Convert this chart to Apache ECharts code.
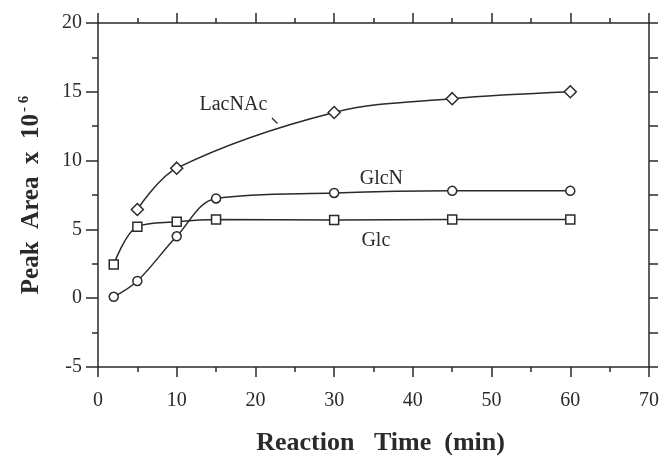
<!DOCTYPE html>
<html>
<head>
<meta charset="utf-8">
<script src="https://cdn.jsdelivr.net/npm/echarts@6/dist/echarts.min.js"></script>
<style>html,body{margin:0;padding:0;background:#fff}#c{width:666px;height:457px}</style>
</head>
<body>
<div id="c"></div>
<script>
// Data
var timeLacNAc = [5, 10, 30, 45, 60];
var valLacNAc  = [6.45, 9.45, 13.5, 14.5, 15.0];
var timeGlcN   = [2, 5, 10, 15, 30, 45, 60];
var valGlcN    = [0.1, 1.25, 4.5, 7.25, 7.65, 7.8, 7.8];
var timeGlc    = [2, 5, 10, 15, 30, 45, 60];
var valGlc     = [2.45, 5.2, 5.55, 5.72, 5.68, 5.72, 5.72];
var xTicks = [0, 10, 20, 30, 40, 50, 60, 70];
var yTicks = [-5, 0, 5, 10, 15, 20];
// annotations in data coordinates
var labelNames = ['LacNAc', 'GlcN', 'Glc'];
var labelX = [17.2, 36.0, 35.3];
var labelY = [14.05, 8.7, 4.2];
var leaderX = [22.1, 22.8];
var leaderY = [13.1, 12.7];

function pairs(xs, ys) { return xs.map(function (x, i) { return [x, ys[i]]; }); }

var ink = '#2a2a2a';
var serif = '"Liberation Serif", "DejaVu Serif", serif';

var chart = echarts.init(document.getElementById('c'), null, {renderer: 'canvas'});

function baseX(pos, labels) {
  return {
    type: 'value', position: pos, min: xTicks[0], max: xTicks[xTicks.length - 1], interval: 10,
    axisLine: {show: true, onZero: false, lineStyle: {color: ink, width: 1.5}},
    axisTick: {show: true, inside: false, length: 10, lineStyle: {color: ink, width: 1.5}},
    minorTick: {show: true, splitNumber: 2, length: 5, lineStyle: {color: ink, width: 1.5}},
    axisLabel: {show: labels, margin: 24, color: ink, fontFamily: serif, fontSize: 20},
    splitLine: {show: false}
  };
}
function baseY(pos, labels) {
  return {
    type: 'value', position: pos, min: yTicks[0], max: yTicks[yTicks.length - 1], interval: 5,
    axisLine: {show: true, onZero: false, lineStyle: {color: ink, width: 1.5}},
    axisTick: {show: true, inside: false, length: labels ? 12 : 9, lineStyle: {color: ink, width: 1.5}},
    minorTick: {show: true, splitNumber: 2, length: labels ? 6 : 9, lineStyle: {color: ink, width: 1.5}},
    axisLabel: {show: labels, margin: 16, color: ink, fontFamily: serif, fontSize: 20},
    splitLine: {show: false}
  };
}

var yL = baseY('left', true);
yL.name = '{b|Peak  Area  x  10}{s|- 6}';
yL.nameLocation = 'middle';
yL.nameRotate = 90;
yL.nameGap = 52;
yL.nameTextStyle = {
  rich: {
    b: {fontFamily: serif, fontWeight: 'bold', fontSize: 25, color: ink},
    s: {fontFamily: serif, fontWeight: 'bold', fontSize: 15, color: ink, verticalAlign: 'top', padding: [0, 0, 14, 2]}
  }
};

function ser(name, xs, ys, sym, size) {
  return {
    name: name, type: 'line', data: pairs(xs, ys), xAxisIndex: 0, yAxisIndex: 0,
    smooth: 0.35,
    symbol: sym, symbolSize: size, showAllSymbol: true,
    lineStyle: {color: ink, width: 1.5},
    itemStyle: {color: '#fff', borderColor: ink, borderWidth: 1.5},
    z: 3
  };
}

chart.setOption({
  animation: false,
  backgroundColor: '#fff',
  grid: {left: 98, right: 17, top: 23, bottom: 90, containLabel: false},
  xAxis: [baseX('bottom', true), baseX('top', false)],
  yAxis: [yL, baseY('right', false)],
  series: [
    ser('LacNAc', timeLacNAc, valLacNAc, 'diamond', 12),
    ser('GlcN', timeGlcN, valGlcN, 'circle', 9),
    ser('Glc', timeGlc, valGlc, 'rect', 9)
  ]
});

function px(x, y) { return chart.convertToPixel({xAxisIndex: 0, yAxisIndex: 0}, [x, y]); }
var g = [];
labelNames.forEach(function (n, i) {
  var p = px(labelX[i], labelY[i]);
  g.push({type: 'text', x: p[0], y: p[1], style: {text: n, fill: ink, font: '20px ' + serif, textAlign: 'center', textVerticalAlign: 'middle'}});
});
var a = px(leaderX[0], leaderY[0]), b = px(leaderX[1], leaderY[1]);
g.push({type: 'line', shape: {x1: a[0], y1: a[1], x2: b[0], y2: b[1]}, style: {stroke: ink, lineWidth: 1.3}});
var xmid = px(35.9, yTicks[0]);
g.push({type: 'text', x: xmid[0], y: 443, style: {text: 'Reaction   Time  (min)', fill: ink, font: 'bold 26px ' + serif, textAlign: 'center', textVerticalAlign: 'middle'}});
chart.setOption({graphic: g});
</script>
</body>
</html>
